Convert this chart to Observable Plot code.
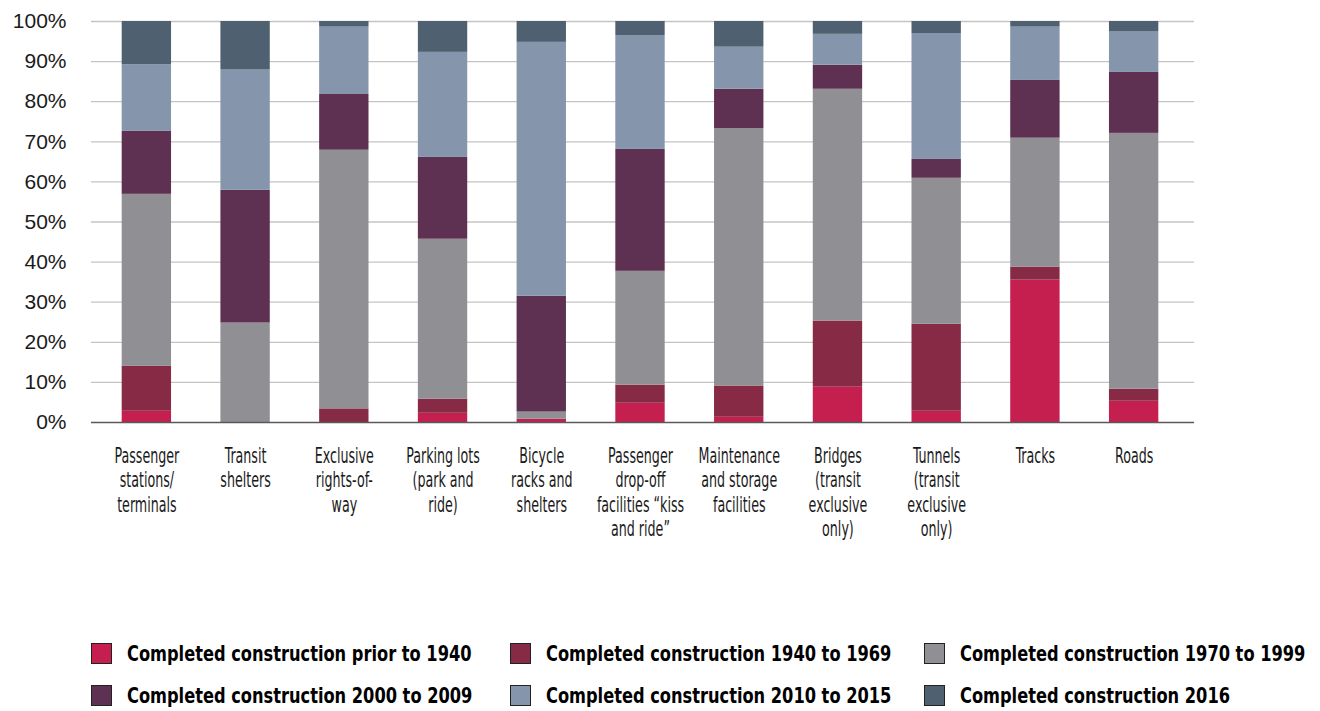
<!DOCTYPE html>
<html>
<head>
<meta charset="utf-8">
<script src="https://cdn.jsdelivr.net/npm/d3@7"></script>
<script src="https://cdn.jsdelivr.net/npm/@observablehq/plot@0.6"></script>
<style>
  html, body { margin: 0; padding: 0; background: #fff; }
  #wrap { position: relative; width: 1320px; height: 711px; overflow: hidden; }
  #legend { position: absolute; left: 0; top: 0; width: 1320px; }
  .item { position: absolute; display: flex; align-items: center; font-family: "Liberation Sans Narrow", "DejaVu Sans Condensed", "Liberation Sans", sans-serif; font-weight: bold; font-size: 22px; color: #000; white-space: nowrap; }
  .sw { width: 21px; height: 21px; border: 1px solid #222; box-sizing: border-box; margin-right: 15px; flex: none; }
  .tx { display: inline-block; transform: scaleX(0.82); transform-origin: 0 50%; }
</style>
</head>
<body>
<div id="wrap"><div id="chart"></div><div id="legend"></div></div>
<script>
const categories = [
  "Passenger stations/terminals", "Transit shelters", "Exclusive rights-of-way",
  "Parking lots (park and ride)", "Bicycle racks and shelters",
  "Passenger drop-off facilities “kiss and ride”", "Maintenance and storage facilities",
  "Bridges (transit exclusive only)", "Tunnels (transit exclusive only)", "Tracks", "Roads"
];
const tickLabels = [
  "Passenger\nstations/\nterminals", "Transit\nshelters", "Exclusive\nrights-of-\nway",
  "Parking lots\n(park and\nride)", "Bicycle\nracks and\nshelters",
  "Passenger\ndrop-off\nfacilities “kiss\nand ride”", "Maintenance\nand storage\nfacilities",
  "Bridges\n(transit\nexclusive\nonly)", "Tunnels\n(transit\nexclusive\nonly)", "Tracks", "Roads"
];
const seriesNames = [
  "Completed construction prior to 1940",
  "Completed construction 1940 to 1969",
  "Completed construction 1970 to 1999",
  "Completed construction 2000 to 2009",
  "Completed construction 2010 to 2015",
  "Completed construction 2016"
];
const seriesColors = ["#c41f4f", "#862a45", "#909094", "#5e3152", "#8495ac", "#4f6170"];
const prior1940 = [2.8, 0, 0, 2.3, 0.8, 4.8, 1.3, 8.8, 2.8, 35.5, 5.3];
const y1940to1969 = [11.2, 0, 3.4, 3.5, 0, 4.5, 7.8, 16.5, 21.7, 3.2, 3.0];
const y1970to1999 = [42.9, 24.8, 64.5, 39.9, 1.8, 28.4, 64.2, 57.8, 36.4, 32.2, 63.8];
const y2000to2009 = [15.7, 33.1, 13.9, 20.4, 28.9, 30.4, 9.8, 6.0, 4.7, 14.4, 15.2];
const y2010to2015 = [16.6, 30.0, 16.8, 26.2, 63.3, 28.4, 10.5, 7.7, 31.4, 13.3, 10.2];
const y2016 = [10.8, 12.1, 1.4, 7.7, 5.2, 3.5, 6.4, 3.2, 3.0, 1.4, 2.5];
const yTicks = [0, 10, 20, 30, 40, 50, 60, 70, 80, 90, 100];

const seriesValues = [prior1940, y1940to1969, y1970to1999, y2000to2009, y2010to2015, y2016];
const data = [];
seriesNames.forEach((s, si) => {
  categories.forEach((c, ci) => data.push({category: c, series: s, value: seriesValues[si][ci]}));
});
const labelOf = new Map(categories.map((c, i) => [c, tickLabels[i]]));

const chart = Plot.plot({
  width: 1320,
  height: 610,
  marginTop: 21,
  marginBottom: 188,
  marginLeft: 91,
  marginRight: 126,
  style: {fontFamily: "'Liberation Sans', Arial, sans-serif", background: "#fff"},
  x: {domain: categories, paddingInner: 0.5, paddingOuter: 0.25, insetLeft: 6, insetRight: 11, round: false, label: null},
  y: {domain: [0, 100], label: null},
  color: {domain: seriesNames, range: seriesColors},
  marks: [
    Plot.ruleY(yTicks.filter(d => d > 0), {stroke: "#c4c4c4", strokeWidth: 1.3}),
    Plot.barY(data, {x: "category", y: "value", z: "series", fill: "series", order: seriesNames}),
    Plot.ruleY([0], {stroke: "#595959", strokeWidth: 1.5}),
    Plot.axisY({ticks: yTicks, tickSize: 0, tickPadding: 25, tickFormat: d => d + "%", fontSize: 21, fill: "#1a1a1a"}),
    Plot.axisX({tickSize: 0, tickPadding: 23, tickFormat: d => labelOf.get(d), fontSize: 22, lineHeight: 1.11,
      fontFamily: "'Liberation Sans Narrow', 'DejaVu Sans Condensed', 'Liberation Sans', sans-serif", fill: "#1a1a1a"})
  ]
});
document.getElementById("chart").appendChild(chart);

d3.select(chart).selectAll('g[aria-label="x-axis tick label"] text').each(function() {
  const t = this.getAttribute("transform") || "";
  this.setAttribute("transform", t + " scale(0.64,1)");
});

const legendPos = [[91, 641], [510, 641], [924, 641], [91, 683], [510, 683], [924, 683]];
const legend = document.getElementById("legend");
seriesNames.forEach((s, i) => {
  const item = document.createElement("div");
  item.className = "item";
  item.style.left = legendPos[i][0] + "px";
  item.style.top = legendPos[i][1] + "px";
  const sw = document.createElement("div");
  sw.className = "sw";
  sw.style.background = seriesColors[i];
  const tx = document.createElement("span");
  tx.className = "tx";
  tx.textContent = s;
  item.appendChild(sw);
  item.appendChild(tx);
  legend.appendChild(item);
});
</script>
</body>
</html>
